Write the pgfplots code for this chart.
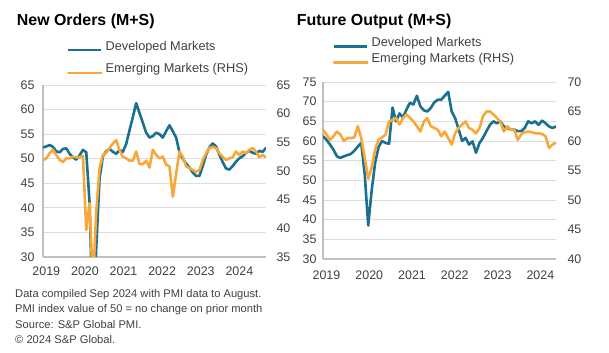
\documentclass[border=0pt]{standalone}
\usepackage{pgfplots}
\usepackage{pgfplotstable}
\pgfplotsset{compat=1.18}
\usepackage{fontspec}
\setmainfont{Liberation Sans}
\definecolor{dmblue}{HTML}{19708F}
\definecolor{emorange}{HTML}{F8A83A}
\definecolor{gridgray}{HTML}{DEDEDE}
\definecolor{axgray}{HTML}{BFBFBF}
\definecolor{ticktext}{HTML}{404040}

\pgfplotstableread{
m v
0 52.3
1 52.5
2 52.8
3 52.4
4 51.5
5 51.3
6 52.0
7 52.1
8 51.0
9 50.3
10 49.8
11 50.7
12 51.8
13 51.3
14 41.0
15 16.0
16 32.0
17 46.0
18 50.5
19 51.5
20 52.0
21 51.4
22 51.0
23 51.8
24 51.4
25 53.0
26 55.8
27 58.5
28 61.3
29 59.3
30 57.3
31 55.3
32 54.3
33 54.6
34 55.3
35 55.0
36 54.3
37 55.6
38 56.8
39 55.6
40 54.3
41 51.3
42 50.0
43 49.0
44 48.2
45 47.2
46 46.5
47 46.5
48 48.5
49 50.8
50 52.3
51 53.1
52 52.5
53 50.8
54 49.3
55 48.0
56 47.8
57 48.5
58 49.4
59 50.1
60 50.5
61 51.2
62 51.6
63 51.2
64 51.0
65 51.6
66 51.4
67 52.2
}\NOdm

\pgfplotstableread{
m v
0 51.9
1 52.2
2 53.1
3 53.7
4 52.8
5 51.9
6 51.6
7 52.2
8 52.2
9 52.5
10 52.4
11 52.4
12 52.6
13 39.7
14 44.4
15 30.0
16 43.0
17 50.5
18 52.8
19 53.2
20 54.0
21 54.8
22 55.4
23 53.6
24 52.5
25 52.2
26 51.8
27 51.8
28 53.4
29 51.2
30 51.2
31 51.8
32 50.6
33 53.7
34 52.8
35 52.2
36 52.5
37 51.1
38 50.8
39 45.5
40 49.5
41 53.4
42 52.5
43 50.8
44 50.5
45 50.2
46 49.8
47 50.2
48 51.9
49 53.1
50 54.0
51 54.2
52 54.0
53 53.1
54 52.5
55 51.9
56 52.2
57 52.4
58 53.4
59 52.8
60 53.4
61 53.1
62 53.7
63 54.0
64 53.4
65 52.4
66 52.8
67 52.4
}\NOem

\pgfplotstableread{
m v
0 61.2
1 60.3
2 59.1
3 57.8
4 56.1
5 55.7
6 56.1
7 56.4
8 56.7
9 57.5
10 58.6
11 59.5
12 51.5
13 38.5
14 47.5
15 54.5
16 58.5
17 60.0
18 59.5
19 59.3
20 68.5
21 65.0
22 67.0
23 66.0
24 68.0
25 69.7
26 69.3
27 71.5
28 68.8
29 67.8
30 67.5
31 68.4
32 69.8
33 70.5
34 70.5
35 71.5
36 72.5
37 67.5
38 65.8
39 63.0
40 60.0
41 60.8
42 59.1
43 59.9
44 57.0
45 59.5
46 60.8
47 62.5
48 64.1
49 65.0
50 64.5
51 65.0
52 63.7
53 63.3
54 62.9
55 62.9
56 62.5
57 62.5
58 63.3
59 65.0
60 64.5
61 65.0
62 64.1
63 65.2
64 64.5
65 63.7
66 63.3
67 63.7
}\FOdm

\pgfplotstableread{
m v
0 61.9
1 61.1
2 60.2
3 60.8
4 61.6
5 61.1
6 60.0
7 60.5
8 60.5
9 60.6
10 62.5
11 60.5
12 57.1
13 53.6
14 55.5
15 58.5
16 60.2
17 60.6
18 61.1
19 63.3
20 63.6
21 63.9
22 62.8
23 63.9
24 64.5
25 63.9
26 63.3
27 62.5
28 61.6
29 63.3
30 63.9
31 62.5
32 62.2
33 61.9
34 60.8
35 61.6
36 60.5
37 59.4
38 61.3
39 62.2
40 62.8
41 63.3
42 62.2
43 61.9
44 61.3
45 62.2
46 64.2
47 65.0
48 65.0
49 64.5
50 63.9
51 63.3
52 61.6
53 62.5
54 61.9
55 61.9
56 60.2
57 61.1
58 61.5
59 61.6
60 61.5
61 61.3
62 61.3
63 61.2
64 60.8
65 58.8
66 59.4
67 59.7
}\FOem

\pgfplotsset{
  base/.style={
    scale only axis, xmin=0, xmax=67, clip=true,
    major tick length=0pt, tick style={draw=none},
    ticklabel style={font=\fontsize{12.5}{14}\selectfont, text=ticktext},
    /pgf/number format/assume math mode=true,
    anchor=south west,
  },
  leg/.style={
    legend cell align=left,
    legend image code/.code={\draw[##1] (0bp,0bp) -- (33bp,0bp);},
    legend style={draw=none, fill=none, inner sep=0pt, outer sep=0pt,
      anchor=north west, column sep=3bp,
      nodes={inner sep=0pt, font=\fontsize{12.8}{14}\selectfont, text=ticktext,
             text height=9bp, text depth=3bp, anchor=base west}},
  },
}

\begin{document}
\begin{tikzpicture}
\path[use as bounding box] (0,0) rectangle (609bp,353bp);

% ---------- Left chart: New Orders ----------
\begin{axis}[base, at={(43bp,96bp)}, width=223bp, height=172bp,
  ymin=30, ymax=65, ytick={30,35,...,65},
  ymajorgrids, grid style={gridgray, line width=0.9bp},
  axis x line*=bottom, axis y line*=left,
  axis line style={axgray, line width=1.2bp},
  xtick={1,12.6,24.2,35.8,47.4,59}, xticklabels={2019,2020,2021,2022,2023,2024},
  xticklabel style={yshift=-6.5bp},
  yticklabel style={xshift=-5bp},
]
\addplot[dmblue, line width=2.6bp, line join=round, line cap=round] table[x=m,y=v] {\NOdm};
\end{axis}
\begin{axis}[base, at={(43bp,96bp)}, width=223bp, height=172bp,
  ymin=35, ymax=65, ytick={35,40,...,65},
  axis x line=none, axis y line*=right, y axis line style={draw=none},
  yticklabel style={xshift=7bp},
  leg, legend style={at={(axis description cs:0.108,1.255)}, row sep=10.7bp},
]
\addlegendimage{dmblue, line width=2.6bp}
\addlegendentry{Developed Markets}
\addplot[emorange, line width=2.6bp, line join=round, line cap=round] table[x=m,y=v] {\NOem};
\addlegendentry{Emerging Markets (RHS)}
\end{axis}

% ---------- Right chart: Future Output ----------
\begin{axis}[base, at={(323bp,94bp)}, width=233bp, height=177bp,
  ymin=30, ymax=75, ytick={30,35,...,75},
  ymajorgrids, grid style={gridgray, line width=0.9bp},
  axis x line*=bottom, axis y line*=left,
  axis line style={axgray, line width=1.2bp},
  xtick={1,13.3,25.6,37.9,50.2,62.5}, xticklabels={2019,2020,2021,2022,2023,2024},
  xticklabel style={yshift=-8bp},
  yticklabel style={xshift=-3bp},
]
\addplot[dmblue, line width=2.6bp, line join=round, line cap=round] table[x=m,y=v] {\FOdm};
\end{axis}
\begin{axis}[base, at={(323bp,94bp)}, width=233bp, height=177bp,
  ymin=40, ymax=70, ytick={40,45,...,70},
  axis x line=none, axis y line*=right, y axis line style={draw=none},
  yticklabel style={xshift=8bp},
  leg, legend style={at={(axis description cs:0.043,1.253)}, row sep=4.3bp},
]
\addlegendimage{dmblue, line width=2.6bp}
\addlegendentry{Developed Markets}
\addplot[emorange, line width=2.6bp, line join=round, line cap=round] table[x=m,y=v] {\FOem};
\addlegendentry{Emerging Markets (RHS)}
\end{axis}

% ---------- Titles ----------
\node[anchor=base west, inner sep=0pt, font=\bfseries\fontsize{16}{18}\selectfont]
  at (16.7bp,327bp) {New Orders (M+S)};
\node[anchor=base west, inner sep=0pt, font=\bfseries\fontsize{16}{18}\selectfont]
  at (296.7bp,327.5bp) {Future Output (M+S)};

% ---------- Footnotes ----------
\begin{scope}[every node/.style={anchor=base west, inner sep=0pt, text=ticktext,
    font=\fontsize{11.2}{13}\selectfont}]
\node at (15bp,55.5bp) {Data compiled Sep 2024 with PMI data to August.};
\node at (15bp,40bp) {PMI index value of 50 = no change on prior month};
\node at (15bp,24.5bp) {Source: S\&P Global PMI.};
\node at (15bp,9.5bp) {\textcopyright\ 2024 S\&P Global.};
\end{scope}
\end{tikzpicture}
\end{document}
